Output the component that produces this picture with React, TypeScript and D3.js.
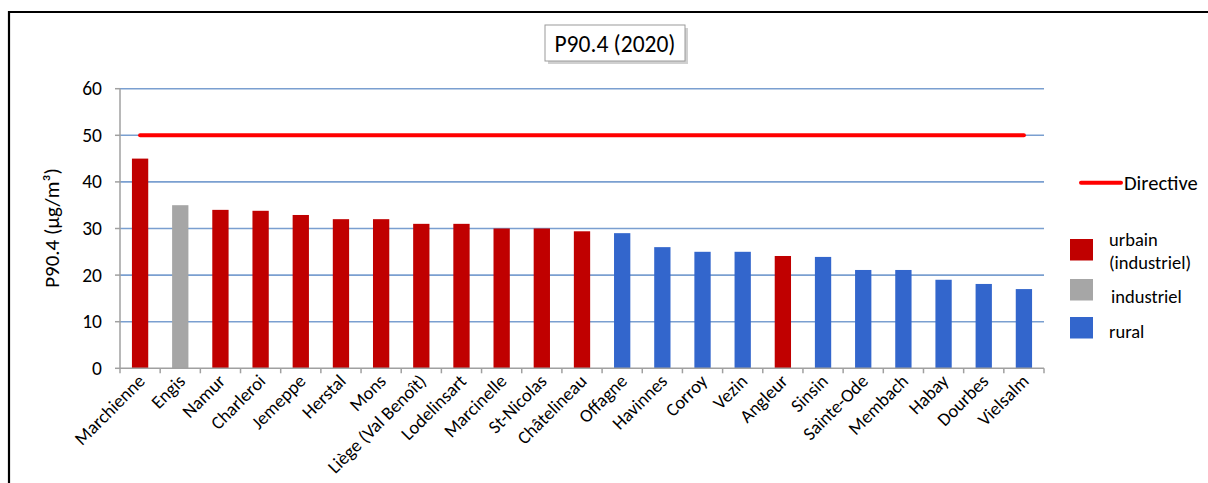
import React from "react";
import * as d3 from "d3";

const categories = [
  "Marchienne", "Engis", "Namur", "Charleroi", "Jemeppe", "Herstal", "Mons",
  "Liège (Val Benoît)", "Lodelinsart", "Marcinelle", "St-Nicolas", "Châtelineau",
  "Offagne", "Havinnes", "Corroy", "Vezin", "Angleur", "Sinsin", "Sainte-Ode",
  "Membach", "Habay", "Dourbes", "Vielsalm",
];
const values = [45, 35, 34, 33.8, 32.9, 32, 32, 31, 31, 30, 30, 29.4, 29, 26, 25, 25, 24.1, 23.9, 21.1, 21.1, 19, 18.1, 17];
const types = ["u", "i", "u", "u", "u", "u", "u", "u", "u", "u", "u", "u", "r", "r", "r", "r", "u", "r", "r", "r", "r", "r", "r"];
const directiveValue = 50;
const yTicks = [0, 10, 20, 30, 40, 50, 60];
const legendItems = [
  { key: "u", lines: ["urbain", "(industriel)"] },
  { key: "i", lines: ["industriel"] },
  { key: "r", lines: ["rural"] },
];
const colors: Record<string, string> = { u: "#c00000", i: "#a6a6a6", r: "#3366cc" };

const FONT = "Carlito, Lato, 'Open Sans', sans-serif";

export default function App() {
  const W = 1208, H = 483;
  const left = 120, right = 1044, top = 88.7, bottom = 368.3;
  const x = d3.scaleBand<string>().domain(categories).range([left, right]).paddingInner(0).paddingOuter(0);
  const y = d3.scaleLinear().domain([0, 60]).range([bottom, top]);
  const bw = 16.3;
  const bandEdges = categories.map((c) => x(c)!).concat([right]);
  const cx = (c: string) => x(c)! + x.bandwidth() / 2;

  return (
    <svg width={W} height={H} style={{ position: "absolute", left: 0, top: 0, background: "#fff" }} fontFamily={FONT}>
      <rect x={0} y={0} width={W} height={H} fill="#fff" />
      <path d={`M9,${H} V12 H${W}`} fill="none" stroke="#000" strokeWidth={2.2} />

      {/* title */}
      <rect x={548} y={28} width={140} height={36} fill="#b0b0b0" opacity={0.6} />
      <rect x={545} y={25} width={140} height={36} fill="#fff" stroke="#9a9a9a" strokeWidth={1} />
      <text x={615} y={51.5} textAnchor="middle" fontSize={23.5} fill="#000">P90.4 (2020)</text>

      {/* gridlines */}
      {yTicks.filter((t) => t > 0).map((t) => (
        <line key={t} x1={left} x2={right} y1={y(t)} y2={y(t)} stroke="#7a9fd0" strokeWidth={1.6} />
      ))}

      {/* bars */}
      {categories.map((c, i) => (
        <rect key={c} x={cx(c) - bw / 2} y={y(values[i])} width={bw} height={bottom - y(values[i])} fill={colors[types[i]]} />
      ))}

      {/* directive line */}
      <line x1={cx(categories[0])} x2={cx(categories[categories.length - 1])} y1={y(directiveValue)} y2={y(directiveValue)}
        stroke="#ff0000" strokeWidth={4} strokeLinecap="round" />

      {/* axes */}
      <line x1={left} x2={left} y1={top} y2={bottom} stroke="#a0a0a0" strokeWidth={1.5} />
      <line x1={left} x2={right} y1={bottom} y2={bottom} stroke="#a0a0a0" strokeWidth={1.5} />
      {yTicks.map((t) => (
        <g key={t}>
          <line x1={left - 5} x2={left} y1={y(t)} y2={y(t)} stroke="#a0a0a0" strokeWidth={1.5} />
          <text x={102} y={y(t) + 6.5} textAnchor="end" fontSize={19.5} fill="#000">{t}</text>
        </g>
      ))}
      {bandEdges.map((e, i) => (
        <line key={i} x1={e} x2={e} y1={bottom} y2={bottom + 5} stroke="#a0a0a0" strokeWidth={1.5} />
      ))}
      {categories.map((c) => (
        <text key={c} transform={`translate(${cx(c) + 6},${bottom + 14}) rotate(-45)`} textAnchor="end" fontSize={18.5} fill="#000">{c}</text>
      ))}
      <text transform={`translate(59,228) rotate(-90)`} textAnchor="middle" fontSize={21} fill="#000">P90.4 (µg/m³)</text>

      {/* legend */}
      <line x1={1081} x2={1121} y1={182.7} y2={182.7} stroke="#ff0000" strokeWidth={4} strokeLinecap="round" />
      <text x={1124} y={189.5} fontSize={20.5} fill="#000">Directive</text>
      {legendItems.map((it, k) => {
        const ys = [239, 279, 317][k];
        const ty = [[246, 269], [302.5], [338]][k];
        const tx = [1109, 1111, 1109][k];
        return (
          <g key={it.key}>
            <rect x={1070} y={ys} width={23} height={21.5} fill={colors[it.key]} />
            {it.lines.map((l, j) => (
              <text key={j} x={tx} y={ty[j]} fontSize={18.5} fill="#000">{l}</text>
            ))}
          </g>
        );
      })}
    </svg>
  );
}
